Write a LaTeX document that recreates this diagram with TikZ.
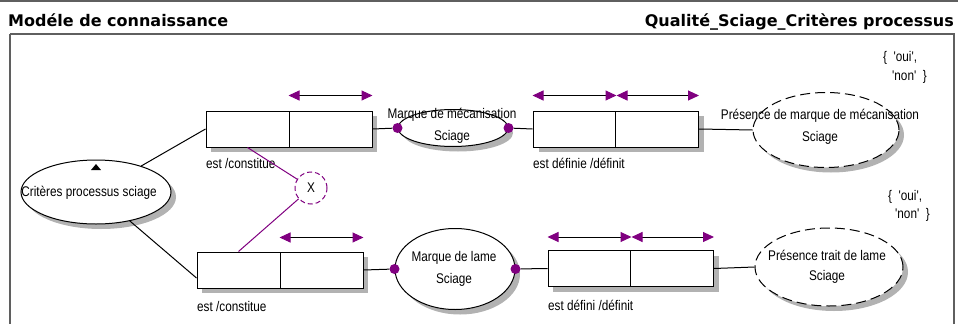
\documentclass[tikz,border=0pt]{standalone}
\usepackage{fontspec}
\setmainfont{Liberation Sans}
\newfontfamily\dfont[FakeStretch=0.84,Ligatures=TeXOff]{Liberation Sans}
\newfontfamily\tfont{DejaVu Sans}
\usetikzlibrary{shapes.geometric,arrows.meta,calc}
\definecolor{pur}{RGB}{128,0,128}
\definecolor{frm}{RGB}{95,95,95}
\definecolor{shadowgray}{RGB}{178,178,178}
\begin{document}
\begin{tikzpicture}[x=1pt,y=-1pt,
  half/.style={draw,fill=white,minimum width=83pt,minimum height=36pt,inner sep=0pt,line width=1pt},
  ell/.style={ellipse,draw,fill=white,inner sep=0pt,line width=1pt},
  dell/.style={ell,dash pattern=on 10pt off 5pt},
  dot/.style={circle,fill=pur,minimum size=10pt,inner sep=0pt},
  txt/.style={font=\dfont\fontsize{14}{22}\selectfont,inner sep=0pt,align=center},
  lab/.style={font=\dfont\fontsize{14}{18}\selectfont,inner sep=0pt,anchor=west},
  dbl/.style={line width=1pt,{Triangle[length=11pt,width=10pt,color=pur]}-{Triangle[length=11pt,width=10pt,color=pur]}},
  conn/.style={line width=1pt},
  pconn/.style={line width=1pt,draw=pur},
  shadowfill/.style={fill=shadowgray},
  ttl/.style={font=\tfont\bfseries\fontsize{16}{18}\selectfont,inner sep=0pt}
]
\useasboundingbox (0,0) rectangle (958,324);
% header and frame
\draw[frm,line width=2pt] (0,1) -- (958,1);
\node[ttl,anchor=base west] (title) at (8,27) {Modéle de connaissance};
\node[ttl,anchor=base east] (title2) at (954,27) {Qualité\_Sciage\_Critères processus};
\draw[frm,line width=1.5pt] (954,324) -- (954,34) -- (10,34);
\draw[frm,line width=2.5pt] (10,34) -- (10,324);

% shadows (drawn first, beneath the shapes)
\fill[shadowfill] (211,116) rectangle (377,152);
\fill[shadowfill] (538.5,116) rectangle (703.5,152);
\fill[shadowfill] (202,257) rectangle (368,293);
\fill[shadowfill] (553,255.5) rectangle (718.5,291.5);
\fill[shadowfill] (101,197) ellipse [x radius=75, y radius=32];
\fill[shadowfill] (458,133) ellipse [x radius=55, y radius=18.5];
\fill[shadowfill] (831,135) ellipse [x radius=73, y radius=37.5];
\fill[shadowfill] (460,274) ellipse [x radius=60, y radius=40.5];
\fill[shadowfill] (834,272) ellipse [x radius=74, y radius=39];

% root
\node[ell,minimum width=150pt,minimum height=64pt] (crit) at (96,192) {};
\node[txt] (critt) at (89,193) {Critères processus sciage};
\fill (91,170) -- (101,170) -- (96,164) -- cycle;

% top row
\node[half] (b1l) at (247.5,129) {};
\node[half] (b1r) at (330.5,129) {};
\node[ell,minimum width=110pt,minimum height=37pt] (m1) at (453,128) {};
\node[txt] (m1t) at (452,125.5) {Marque de mécanisation\\Sciage};
\node[half] (b2l) at (574.5,129) {};
\node[half] (b2r) at (657,129) {};
\node[dell,minimum width=146pt,minimum height=75pt] (p1) at (826,130) {};
\node[txt] (p1t) at (820,127) {Présence de marque de mécanisation\\Sciage};
\node[dot] (d1) at (m1.west) {};
\node[dot] (d2) at (m1.east) {};

% bottom row
\node[half] (b3l) at (238.5,270) {};
\node[half] (b3r) at (321.5,270) {};
\node[ell,minimum width=120pt,minimum height=81pt] (m2) at (455,269) {};
\node[txt] (m2t) at (454,269) {Marque de lame\\Sciage};
\node[half] (b4l) at (589.5,268.5) {};
\node[half] (b4r) at (672,268.5) {};
\node[dell,minimum width=148pt,minimum height=78pt] (p2) at (829,267) {};
\node[txt,font=\dfont\fontsize{14}{20}\selectfont] (p2t) at (827,267) {Présence trait de lame\\Sciage};
\node[dot] (d3) at (m2.west) {};
\node[dot] (d4) at (m2.east) {};

% X
\node[circle,draw=pur,fill=white,dash pattern=on 5pt off 3pt,line width=1pt,minimum size=32pt,inner sep=0pt,font=\dfont\fontsize{14}{16}\selectfont] (X) at (311,188) {X};

% labels
\node[lab] (l1) at (206,163) {est /constitue};
\node[lab] (l2) at (533,163) {est définie /définit};
\node[lab] (l3) at (197,306) {est /constitue};
\node[lab] (l4) at (548,305) {est défini /définit};
\node[lab] (v1) at (883,58) {\{~~'oui',};
\node[lab] (v2) at (892,77) {'non'~~\}};
\node[lab] (v3) at (888,197) {\{~~'oui',};
\node[lab] (v4) at (895,215) {'non'~~\}};

% connectors
\draw[conn] (crit) -- (b1l.west);
\draw[conn] (crit) -- ($(b3l.west)+(0,8)$);
\draw[conn] (b1r.east) -- (d1);
\draw[conn] (d2) -- (b2l.west);
\draw[conn] (b2r.east) -- (p1.west);
\draw[conn] (b3r.east) -- (d3);
\draw[conn] (d4) -- (b4l.west);
\draw[conn] (b4r.east) -- (p2.west);
\draw[pconn] (b1l.south) -- (X);
\draw[pconn] (X) -- (b3l.north);

% cardinality arrows
\coordinate (a1s) at ($(b1r.north west)+(0,-15)$);
\coordinate (a1e) at ($(b1r.north east)+(0,-15)$);
\draw[dbl] (a1s) -- (a1e);
\coordinate (a2s) at ($(b2l.north west)+(0,-15)$);
\coordinate (a2m) at ($(b2l.north east)+(0,-15)$);
\coordinate (a2e) at ($(b2r.north east)+(0,-15)$);
\draw[dbl] (a2s) -- (a2m);
\draw[dbl] (a2m) -- (a2e);
\coordinate (a3s) at ($(b3r.north west)+(0,-14)$);
\coordinate (a3e) at ($(b3r.north east)+(0,-14)$);
\draw[dbl] (a3s) -- (a3e);
\coordinate (a4s) at ($(b4l.north west)+(0,-13)$);
\coordinate (a4m) at ($(b4l.north east)+(0,-13)$);
\coordinate (a4e) at ($(b4r.north east)+(0,-13)$);
\draw[dbl] (a4s) -- (a4m);
\draw[dbl] (a4m) -- (a4e);
\end{tikzpicture}
\end{document}
